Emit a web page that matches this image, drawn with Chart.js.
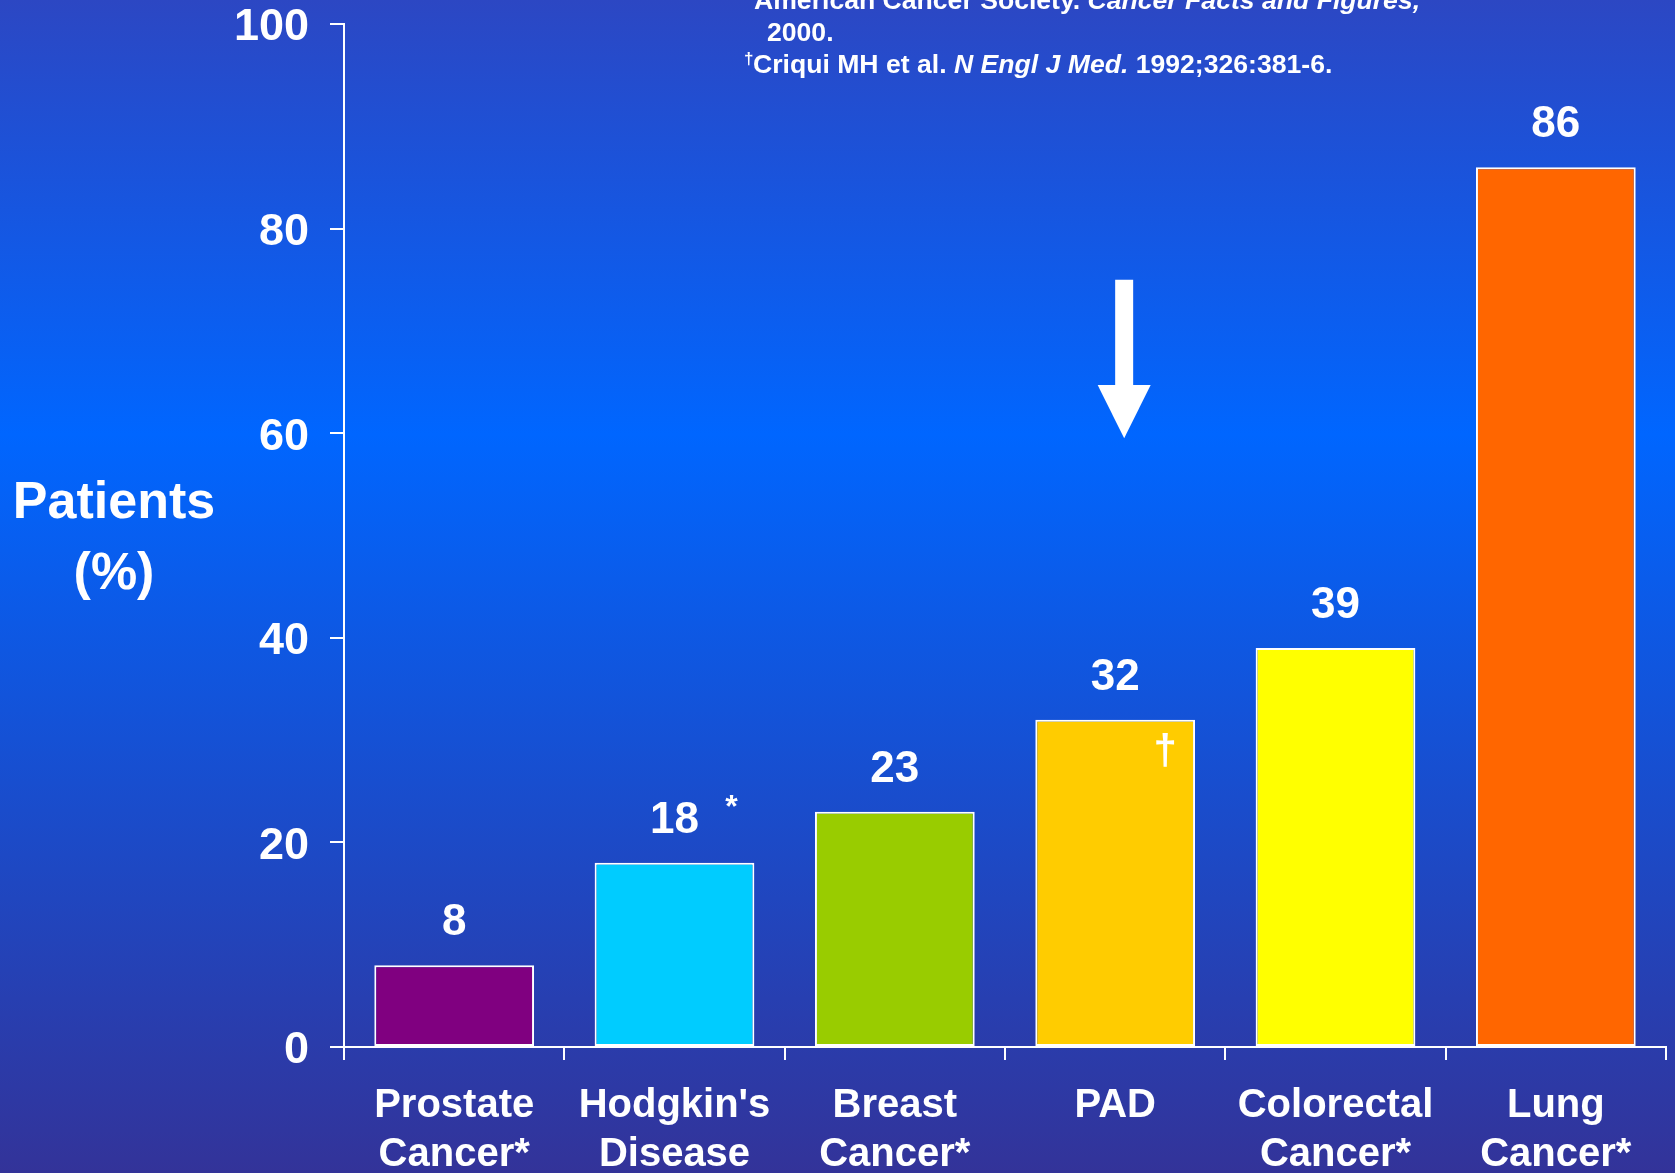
<!DOCTYPE html>
<html>
<head>
<meta charset="utf-8">
<script src="https://cdn.jsdelivr.net/npm/chart.js@4"></script>
<style>
  html, body { margin: 0; padding: 0; background: #1a55e0; }
  canvas { display: block; }
</style>
</head>
<body>
<canvas id="c" width="1675" height="1173"></canvas>
<script>
// ---- data ----
const categories = [["Prostate", "Cancer*"], ["Hodgkin's", "Disease"], ["Breast", "Cancer*"], ["PAD"], ["Colorectal", "Cancer*"], ["Lung", "Cancer*"]];
const patientsPct = [8, 18, 23, 32, 39, 86];
const barColors = ["#800080", "#00CCFF", "#99CC00", "#FFCC00", "#FFFF00", "#FF6600"];
const yTicks = [0, 20, 40, 60, 80, 100];
const yTitle = ["Patients", "(%)"];

const FONT = "'Liberation Sans', Arial, Helvetica, sans-serif";

const bgPlugin = {
  id: 'bg',
  beforeDraw(chart) {
    const ctx = chart.ctx, w = chart.width, h = chart.height;
    const g = ctx.createLinearGradient(0, 0, 0, h);
    g.addColorStop(0, '#2C47C3');
    g.addColorStop(0.37, '#0066FF');
    g.addColorStop(1, '#333399');
    ctx.save();
    ctx.fillStyle = g;
    ctx.fillRect(0, 0, w, h);
    ctx.restore();
  }
};

const annoPlugin = {
  id: 'anno',
  afterDraw(chart) {
    const ctx = chart.ctx;
    const meta = chart.getDatasetMeta(0);
    const ys = chart.scales.y;
    ctx.save();
    ctx.fillStyle = '#FFFFFF';
    // value labels
    ctx.font = 'bold 44px ' + FONT;
    ctx.textAlign = 'center';
    ctx.textBaseline = 'middle';
    meta.data.forEach((bar, i) => {
      ctx.fillText(String(patientsPct[i]), bar.x, bar.y - 42);
    });
    // asterisk beside Hodgkin's value
    const hb = meta.data[1];
    ctx.font = 'bold 32px ' + FONT;
    ctx.textBaseline = 'alphabetic';
    ctx.fillText('*', hb.x + 57, hb.y - 46);
    // dagger inside PAD bar
    const pb = meta.data[3];
    ctx.font = 'bold 42px ' + FONT;
    ctx.textBaseline = 'middle';
    ctx.fillText('\u2020', pb.x + 50, pb.y + 33);

    // arrow above PAD
    const ax = pb.x + 9;
    const yTop = ys.getPixelForValue(75);
    const yBase = ys.getPixelForValue(64.7);
    const yTip = ys.getPixelForValue(59.5);
    ctx.beginPath();
    ctx.rect(ax - 9, yTop, 18, yBase - yTop + 1);
    ctx.fill();
    ctx.beginPath();
    ctx.moveTo(ax - 26.5, yBase);
    ctx.lineTo(ax + 26.5, yBase);
    ctx.lineTo(ax, yTip);
    ctx.closePath();
    ctx.fill();

    // y title
    ctx.font = 'bold 52px ' + FONT;
    ctx.textAlign = 'center';
    ctx.textBaseline = 'middle';
    ctx.fillText(yTitle[0], 114, 504);
    ctx.fillText(yTitle[1], 114, 575);

    // footnotes
    ctx.textAlign = 'left';
    ctx.textBaseline = 'alphabetic';
    const drawRun = (parts, x, y) => {
      parts.forEach(p => {
        ctx.font = (p.it ? 'italic ' : '') + 'bold ' + (p.size || 26.6) + 'px ' + FONT;
        const yy = p.sup ? y - 9 : y;
        ctx.fillText(p.t, x, yy);
        x += ctx.measureText(p.t).width;
      });
    };
    drawRun([{t: '*', size: 17, sup: true}], 744, 9);
    drawRun([{t: 'American Cancer Society. '}, {t: 'Cancer Facts and Figures,', it: true}], 754, 9);
    drawRun([{t: '2000.'}], 767, 41);
    drawRun([{t: '\u2020', size: 17, sup: true}], 744, 73);
    drawRun([{t: 'Criqui MH et al. '}, {t: 'N Engl J Med.', it: true}, {t: ' 1992;326:381-6.'}], 753, 73);
    ctx.restore();
  }
};

new Chart(document.getElementById('c'), {
  type: 'bar',
  data: {
    labels: categories,
    datasets: [{
      data: patientsPct,
      backgroundColor: barColors,
      borderColor: '#FFFFFF',
      borderWidth: 2,
      borderSkipped: false,
      barPercentage: 0.725,
      categoryPercentage: 1.0
    }]
  },
  options: {
    responsive: false,
    animation: false,
    layout: { padding: { top: 24, right: 9, left: 0, bottom: 0 } },
    plugins: { legend: { display: false }, tooltip: { enabled: false } },
    scales: {
      x: {
        grid: { drawOnChartArea: false, color: '#FFFFFF', lineWidth: 2, tickLength: 13, offset: true },
        border: { color: '#FFFFFF', width: 2 },
        ticks: {
          color: '#FFFFFF',
          font: { family: FONT, size: 40, weight: 'bold', lineHeight: 1.22 },
          padding: 22,
          maxRotation: 0, autoSkip: false
        },
        afterFit(s) { s.height = 126; s.paddingLeft = 0; s.paddingRight = 0; }
      },
      y: {
        min: 0, max: 100,
        afterBuildTicks(s) { s.ticks = yTicks.map(v => ({ value: v })); },
        grid: { drawOnChartArea: false, color: '#FFFFFF', lineWidth: 2, tickLength: 14 },
        border: { color: '#FFFFFF', width: 2 },
        ticks: {
          color: '#FFFFFF',
          font: { family: FONT, size: 45, weight: 'bold' },
          padding: 21,
          labelOffset: 4
        },
        afterFit(s) { s.width = 344; s.paddingTop = 0; s.paddingBottom = 0; }
      }
    }
  },
  plugins: [bgPlugin, annoPlugin]
});
</script>
</body>
</html>
